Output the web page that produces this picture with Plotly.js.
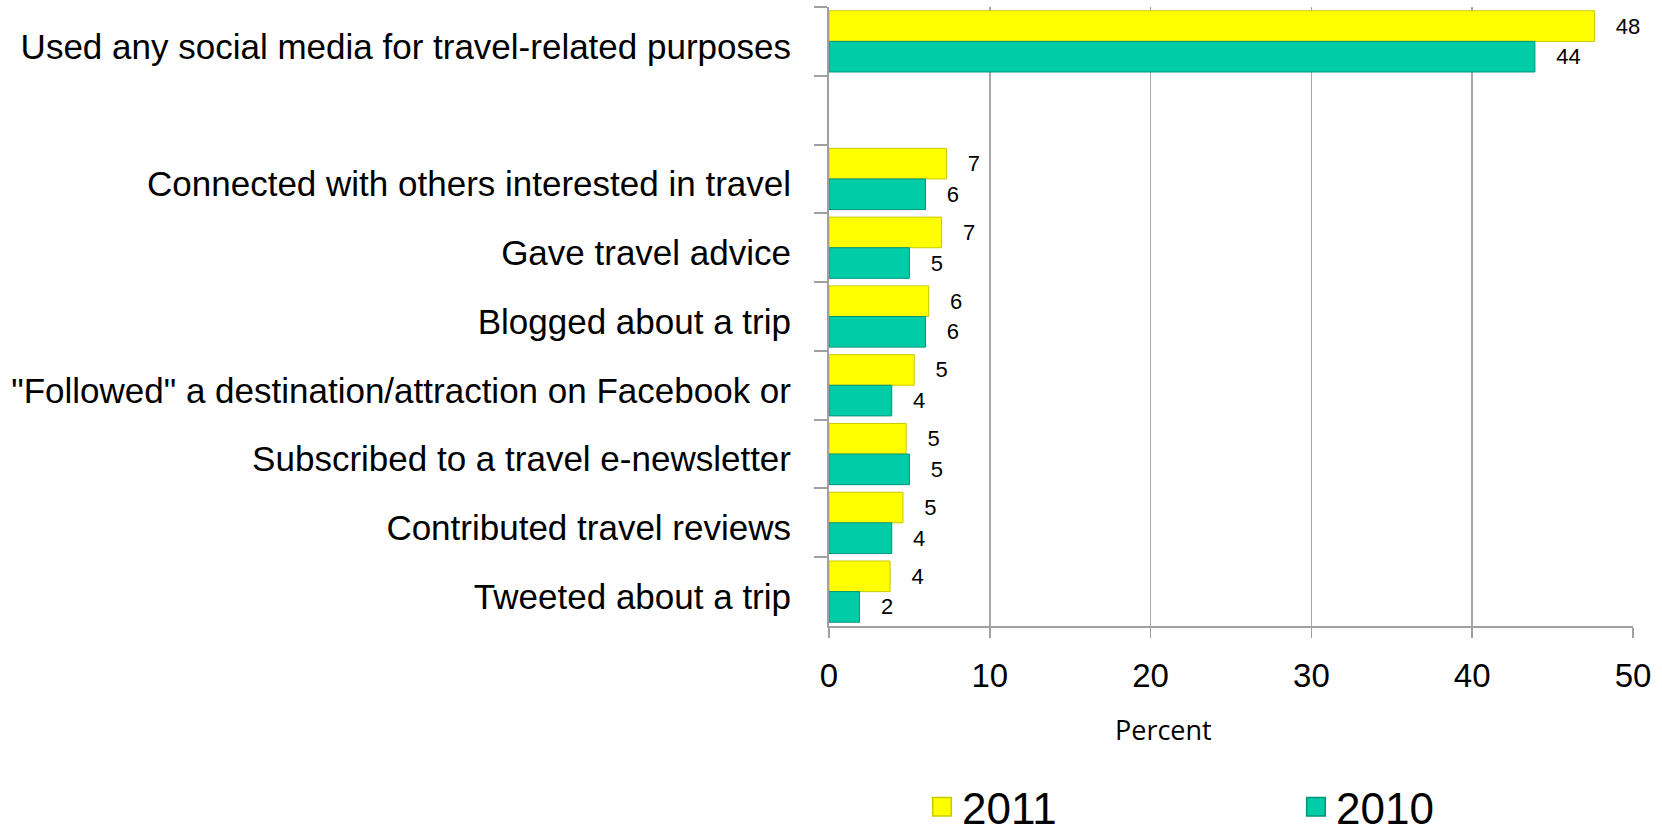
<!DOCTYPE html>
<html>
<head>
<meta charset="utf-8">
<script src="https://cdn.plot.ly/plotly-3.0.1.min.js"></script>
<style>
html,body{margin:0;padding:0;background:#fff;}
#chart{width:1662px;height:833px;}
</style>
</head>
<body>
<div id="chart"></div>
<script>
const categories = [
  "Used any social media for travel-related purposes",
  " ",
  "Connected with others interested in travel",
  "Gave travel advice",
  "Blogged about a trip",
  "\"Followed\" a destination/attraction on Facebook or",
  "Subscribed to a travel e-newsletter",
  "Contributed travel reviews",
  "Tweeted about a trip"
];
const values2011 = [47.6, null, 7.3, 7.0, 6.2, 5.3, 4.8, 4.6, 3.8];
const values2010 = [43.9, null, 6.0, 5.0, 6.0, 3.9, 5.0, 3.9, 1.9];
const labels2011 = ["48", "", "7", "7", "6", "5", "5", "5", "4"];
const labels2010 = ["44", "", "6", "5", "6", "4", "5", "4", "2"];
const seriesNames = ["2011", "2010"];
const xTicks = [0, 10, 20, 30, 40, 50];

const pad = s => s ? "\u00a0\u00a0\u00a0" + s : "";
const sans = "Liberation Sans, Arial, sans-serif";
const labelFont = {family: sans, size: 22, color: "#000"};

const traces = [
  {
    type: "bar", orientation: "h", name: seriesNames[0], legend: "legend",
    y: categories, x: values2011,
    text: labels2011.map(pad), textposition: "outside", constraintext: "none",
    cliponaxis: false, textfont: labelFont, hoverinfo: "x+y",
    marker: {color: "#FFFF00", line: {color: "#C9C900", width: 1}}
  },
  {
    type: "bar", orientation: "h", name: seriesNames[1], legend: "legend2",
    y: categories, x: values2010,
    text: labels2010.map(pad), textposition: "outside", constraintext: "none",
    cliponaxis: false, textfont: labelFont, hoverinfo: "x+y",
    marker: {color: "#00CCA8", line: {color: "#00957B", width: 1}}
  }
];

const legendFont = {family: sans, size: 44, color: "#000"};

const layout = {
  width: 1662, height: 833,
  margin: {l: 829, r: 29, t: 7, b: 207, autoexpand: false},
  paper_bgcolor: "#ffffff", plot_bgcolor: "#ffffff",
  barmode: "group", bargap: 0.11, bargroupgap: 0,
  showlegend: true,
  legend: {
    orientation: "h", xref: "container", yref: "container",
    x: 922 / 1662, xanchor: "left", y: 0.031, yanchor: "middle",
    font: legendFont, bgcolor: "rgba(0,0,0,0)"
  },
  legend2: {
    orientation: "h", xref: "container", yref: "container",
    x: 1296 / 1662, xanchor: "left", y: 0.031, yanchor: "middle",
    font: legendFont, bgcolor: "rgba(0,0,0,0)"
  },
  xaxis: {
    range: [0, 50], tickvals: xTicks, ticktext: xTicks.map(String),
    showgrid: true, gridcolor: "#A6A6A6", gridwidth: 1.5,
    showline: true, linecolor: "#A0A0A0", linewidth: 2,
    ticks: "outside", ticklen: 10, tickcolor: "#A0A0A0", tickwidth: 1.5,
    ticklabelstandoff: 9,
    tickfont: {family: sans, size: 33, color: "#000"},
    zeroline: false, fixedrange: true
  },
  yaxis: {
    type: "category", categoryorder: "array", categoryarray: categories,
    autorange: "reversed",
    showgrid: false, zeroline: false,
    showline: true, linecolor: "#A0A0A0", linewidth: 2,
    ticks: "outside", ticklen: 13, tickcolor: "#A0A0A0", tickwidth: 2,
    tickson: "boundaries", ticklabelstandoff: 29, ticklabelshift: -5,
    tickfont: {family: sans, size: 35, color: "#000"},
    fixedrange: true
  },
  annotations: [{
    text: "Percent", xref: "paper", yref: "paper",
    x: (1163 - 829) / 804, y: -0.168, xanchor: "center", yanchor: "middle",
    showarrow: false,
    font: {family: "Open Sans, sans-serif", size: 27, color: "#000"}
  }]
};

Plotly.newPlot("chart", traces, layout, {displayModeBar: false, staticPlot: true}).then(gd => {
  gd.querySelectorAll(".legendpoints path").forEach(p => {
    const t = p.getAttribute("transform") || "";
    p.setAttribute("transform", t + " scale(1.55)");
  });
});
</script>
</body>
</html>
